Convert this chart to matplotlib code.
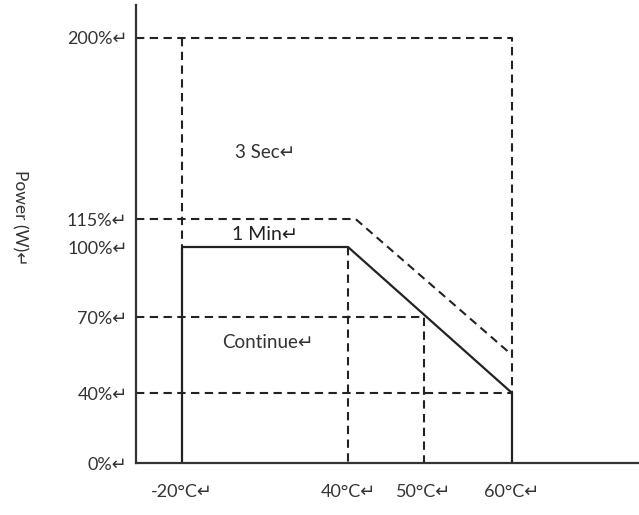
import matplotlib
matplotlib.use('Agg')
import matplotlib.pyplot as plt
import numpy as np

plt.rcParams['font.family'] = ['Lato', 'DejaVu Sans']

# schematic derating curve: temperature (°C) vs power (%)
temp_ticks = [-20, 40, 50, 60]
temp_labels = ['-20°C↵', '40°C↵', '50°C↵', '60°C↵']
power_ticks = [0, 40, 70, 100, 115, 200]
power_labels = ['0%↵', '40%↵', '70%↵', '100%↵', '115%↵', '200%↵']

# continuous (solid) curve
cont_t = [-20, -20, 40, 60, 60]
cont_p = [0, 100, 100, 40, 0]
# 1 minute (dashed) curve
min_t = [-37, 41, 60]
min_p = [115, 115, 55]
# 3 sec box
sec_t = [-37, 60, 60]
sec_p = [200, 200, 40]

# the drawing is not to scale: piecewise-linear scales through the labelled points
x_vals = [-37, -20, 40, 50, 60, 75]
x_pix = [0, 46, 212, 288, 376, 503]
y_vals = [0, 40, 70, 100, 115, 200, 215]
y_pix = [0, 70, 146, 216, 244, 425, 458]

def xf(v):
    return np.interp(v, x_vals, x_pix)

def xi(p):
    return np.interp(p, x_pix, x_vals)

def yf(v):
    return np.interp(v, y_vals, y_pix)

def yi(p):
    return np.interp(p, y_pix, y_vals)

fig = plt.figure(figsize=(6.39, 5.15), dpi=100)
ax = fig.add_axes([136 / 639, 52 / 515, 503 / 639, 458 / 515])
ax.set_xscale('function', functions=(xf, xi))
ax.set_yscale('function', functions=(yf, yi))
ax.set_xlim(-37, 75)
ax.set_ylim(0, 215)

dash = dict(color='#222222', lw=1.5, dashes=(4, 2.6))
ax.plot(sec_t, sec_p, **dash)
ax.plot([-20, -20], [200, 100], **dash)
ax.plot(min_t, min_p, **dash)
ax.plot([40, 40], [100, 0], **dash)
ax.plot([-37, 50, 50], [70, 70, 0], **dash)
ax.plot([-37, 60], [40, 40], **dash)
ax.plot(cont_t, cont_p, color='#222222', lw=1.6)

ax.text(10, 146, '3 Sec↵', ha='center', va='center', fontsize=13.5, color='#333333')
ax.text(10, 106.5, '1 Min↵', ha='center', va='center', fontsize=14, color='#222222')
ax.text(11, 60, 'Continue↵', ha='center', va='center', fontsize=13.5, color='#333333')

for s in ['top', 'right']:
    ax.spines[s].set_visible(False)
for s in ['left', 'bottom']:
    ax.spines[s].set_linewidth(1.6)
    ax.spines[s].set_color('#333333')

ax.set_xticks(temp_ticks, temp_labels)
ax.set_yticks(power_ticks, power_labels)
ax.minorticks_off()
ax.tick_params(axis='both', length=0, labelsize=13, labelcolor='#333333')
ax.tick_params(axis='x', pad=15)
ax.tick_params(axis='y', pad=6)

fig.text(20 / 639, 1 - 218 / 515, 'Power (W)↵', rotation=-90, ha='center', va='center',
         fontsize=12.5, color='#333333')

fig.savefig('out.png', dpi=100)
